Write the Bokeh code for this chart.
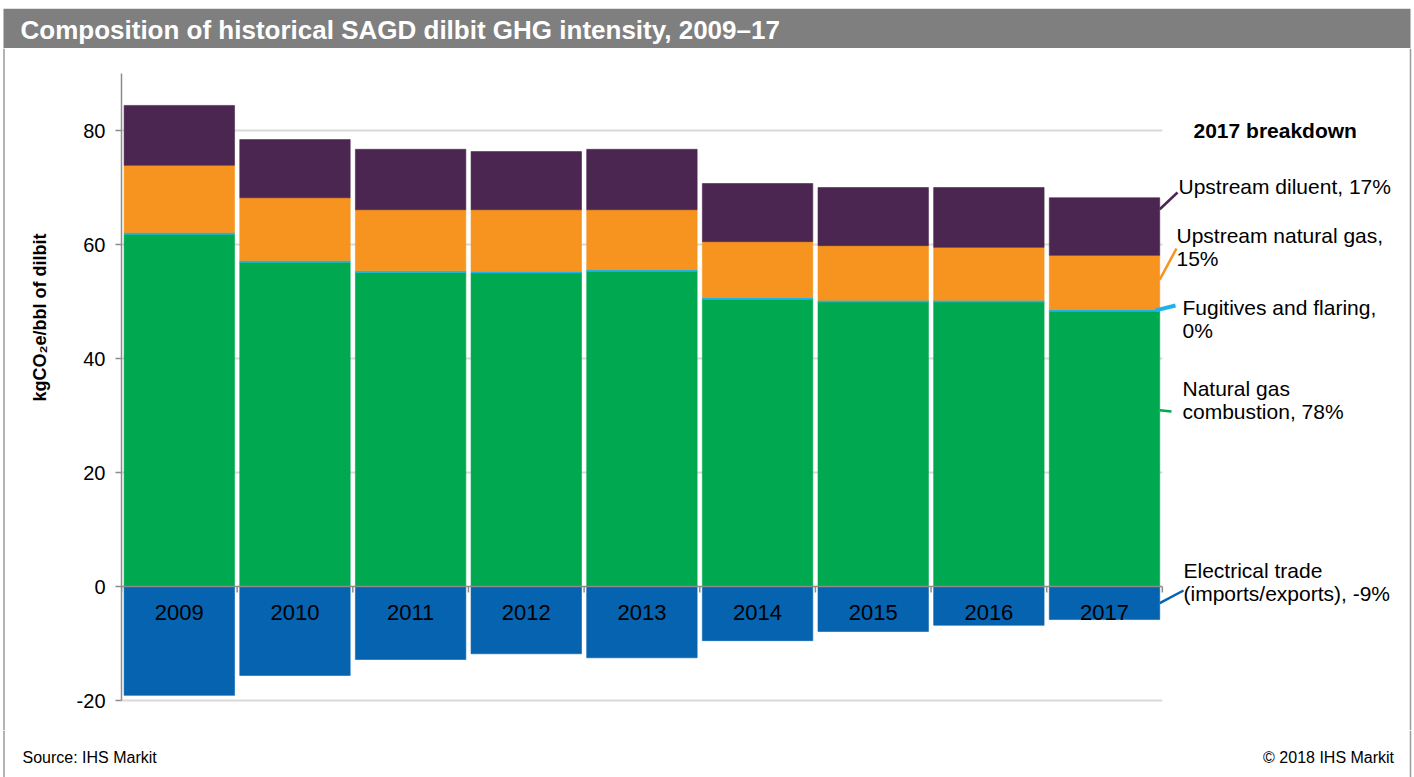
import math
from bokeh.plotting import figure
from bokeh.models import Range1d, FixedTicker, Title, ColumnDataSource, Spacer
from bokeh.layouts import column, row
from bokeh.embed import file_html
from bokeh.resources import INLINE
from bokeh.core.properties import value

# ---------------- data ----------------
years = ["2009", "2010", "2011", "2012", "2013", "2014", "2015", "2016", "2017"]
natural_gas_combustion = [61.8, 56.9, 55.1, 55.0, 55.3, 50.4, 49.9, 49.9, 48.3]
fugitives_and_flaring = [0.3, 0.3, 0.3, 0.3, 0.3, 0.3, 0.3, 0.3, 0.3]
upstream_natural_gas = [11.8, 11.0, 10.7, 10.8, 10.5, 9.8, 9.6, 9.3, 9.5]
upstream_diluent = [10.5, 10.2, 10.6, 10.2, 10.6, 10.2, 10.2, 10.5, 10.1]
electrical_trade = [-19.1, -15.6, -12.8, -11.8, -12.5, -9.5, -7.9, -6.8, -5.8]
y_ticks = [-20, 0, 20, 40, 60, 80]

title_text = "Composition of historical SAGD dilbit GHG intensity, 2009\u201317"
y_label = "kgCO\u2082e/bbl of dilbit"
breakdown_title = "2017 breakdown"
breakdown_labels = [
    ["Upstream diluent, 17%"],
    ["Upstream natural gas,", "15%"],
    ["Fugitives and flaring,", "0%"],
    ["Natural gas", "combustion, 78%"],
    ["Electrical trade", "(imports/exports), -9%"],
]
source_text = "Source:  IHS Markit"
copyright_text = "\u00a9 2018  IHS Markit"

# ---------------- style / layout ----------------
FONT = "Liberation Sans"
C_DIL, C_GAS, C_FUG, C_COMB, C_ELEC = "#4B2650", "#F6941F", "#1DB3EA", "#00A94F", "#0563B0"
GRID_C, AXIS_C, BORDER_C = "#D9D9D9", "#8C8C8C", "#9A9A9A"
BAR_GRAY = "#7F7F7F"

W = 1414
TOP_GAP, TITLE_H, MAIN_H, FOOT_H = 8, 40, 682, 47
MAIN_TOP = TOP_GAP + TITLE_H          # page y of main figure top
EDGE_W = 5                            # strip carrying the left border line
LEFT = 121
X0_REF, Y0_REF = LEFT, 586            # page pixel of x=0 / y=0
CAT_W, PX_PER_UNIT = 115.65, 5.7
BAR_W = 0.955
BOX_L, BOX_R = 3.5, 1410              # chart box border lines (page x)


def xd(px):
    return (px - X0_REF) / CAT_W


def yd(py):
    return (Y0_REF - py) / PX_PER_UNIT


def bare(fig, fill):
    fig.grid.visible = False
    fig.outline_line_color = None
    fig.background_fill_color = fill
    fig.border_fill_color = fill


# ---------------- title bar (pixel coordinates) ----------------
t = figure(width=W, height=TITLE_H, x_range=Range1d(0, W), y_range=Range1d(TITLE_H, 0),
           min_border=0, x_axis_location=None, y_axis_location=None,
           toolbar_location=None, output_backend="svg")
bare(t, "white")
t.quad(left=[BOX_L - 0.5], right=[BOX_R], top=[0], bottom=[TITLE_H],
       fill_color=BAR_GRAY, line_color=None)
t.text(x=[20], y=[21], text=[title_text], text_font=value(FONT), text_font_size="26px",
       text_font_style="bold", text_color="white", text_align="left", text_baseline="middle")

# ---------------- left border strip ----------------
edge = figure(width=EDGE_W, height=MAIN_H, x_range=Range1d(0, EDGE_W), y_range=Range1d(0, 1),
              min_border=0, x_axis_location=None, y_axis_location=None,
              toolbar_location=None, output_backend="svg")
bare(edge, "white")
edge.segment(x0=[BOX_L], x1=[BOX_L], y0=[0], y1=[1], line_color=BORDER_C, line_width=1.5)

# ---------------- main chart ----------------
n = len(years)
xs = [i + 0.5 for i in range(n)]
src = ColumnDataSource(dict(
    x=xs, year=years,
    comb=natural_gas_combustion, fug=fugitives_and_flaring,
    gas=upstream_natural_gas, dil=upstream_diluent, elec=electrical_trade,
))

p = figure(width=W - EDGE_W, height=MAIN_H,
           x_range=Range1d(0, (W - LEFT) / CAT_W),
           y_range=Range1d(yd(MAIN_TOP + MAIN_H), yd(MAIN_TOP)),
           min_border_left=LEFT - EDGE_W, min_border_right=0, min_border_top=0,
           min_border_bottom=0, x_axis_location=None, toolbar_location=None,
           output_backend="svg")
bare(p, "white")

# gridlines (stop at the last category)
grid_vals = [v for v in y_ticks if v != 0]
p.segment(x0=[0] * len(grid_vals), x1=[n] * len(grid_vals), y0=grid_vals, y1=grid_vals,
          line_color=GRID_C, line_width=2)

p.vbar_stack(["comb", "fug", "gas", "dil"], x="x", width=BAR_W, source=src,
             color=[C_COMB, C_FUG, C_GAS, C_DIL], line_width=0.6)
p.vbar(x="x", top=0, bottom="elec", width=BAR_W, source=src, color=C_ELEC, line_width=0.6)

# zero axis line with category ticks
p.segment(x0=[0], x1=[n], y0=[0], y1=[0], line_color=AXIS_C, line_width=1.5)
p.segment(x0=list(range(n + 1)), x1=list(range(n + 1)), y0=[0] * (n + 1),
          y1=[-6 / PX_PER_UNIT] * (n + 1), line_color=AXIS_C, line_width=1.5)

# year labels inside the negative bars
p.text(x="x", y=yd(612), text="year", source=src, text_font=value(FONT),
       text_font_size="22px", text_color="black", text_align="center",
       text_baseline="middle")

# y axis
ax = p.yaxis[0]
ax.ticker = FixedTicker(ticks=y_ticks)
ax.major_label_overrides = {v: str(v) for v in y_ticks}
ax.bounds = (y_ticks[0], 90)
ax.axis_line_color = AXIS_C
ax.axis_line_width = 1.5
ax.major_tick_line_color = AXIS_C
ax.major_tick_line_width = 1.5
ax.major_tick_out = 6
ax.major_tick_in = 0
ax.minor_tick_line_color = None
ax.major_label_text_font = FONT
ax.major_label_text_font_size = "20px"
ax.major_label_text_color = "black"
ax.major_label_standoff = 10

# y-axis title as a side-panel title (end of text at page y 233)
p.add_layout(Title(text=y_label, align="right", offset=233 - MAIN_TOP,
                   vertical_align="top", standoff=44,
                   text_font=FONT, text_font_size="18px", text_font_style="bold",
                   text_color="black"), "left")

# right border of the chart box
p.segment(x0=[xd(BOX_R)], x1=[xd(BOX_R)], y0=[yd(MAIN_TOP + MAIN_H)], y1=[yd(MAIN_TOP)],
          line_color=BORDER_C, line_width=1.5)

# 2017 breakdown
p.text(x=[xd(1193)], y=[yd(130)], text=[breakdown_title], text_font=value(FONT),
       text_font_size="21px", text_font_style="bold", text_color="black",
       text_align="left", text_baseline="middle")

label_pos = [(1178, 186), (1176, 235), (1182, 307), (1182, 388), (1183, 570)]
line_step = 23
lx, ly, lt = [], [], []
for (rx, ry), lines in zip(label_pos, breakdown_labels):
    for k, s in enumerate(lines):
        lx.append(xd(rx))
        ly.append(yd(ry + k * line_step))
        lt.append(s)
p.text(x=lx, y=ly, text=lt, text_font=value(FONT), text_font_size="21px",
       text_color="black", text_align="left", text_baseline="middle")

# leader lines from the 2017 bar
last = n - 1
bar_right = xs[last] + BAR_W / 2
c = natural_gas_combustion[last]
f = fugitives_and_flaring[last]
g = upstream_natural_gas[last]
d = upstream_diluent[last]
e = electrical_trade[last]
starts_y = [c + f + g + 0.8 * d, c + f + 0.55 * g, c + 0.5 * f, 0.64 * c, 0.5 * e]
ends = [(1177, 192), (1176, 248), (1175, 305), (1171, 411), (1183, 590)]
colors = [C_DIL, C_GAS, C_FUG, C_COMB, C_ELEC]
widths = [2.5, 2.5, 4, 2.5, 2.5]
for sy, (ex, ey), col, lw in zip(starts_y, ends, colors, widths):
    sx = bar_right - (0.035 if col == C_FUG else 0)
    p.segment(x0=[sx], y0=[sy], x1=[xd(ex)], y1=[yd(ey)], line_color=col, line_width=lw)

# ---------------- footer (pixel coordinates) ----------------
ft = figure(width=W, height=FOOT_H, x_range=Range1d(0, W), y_range=Range1d(FOOT_H, 0),
            min_border=0, x_axis_location=None, y_axis_location=None,
            toolbar_location=None, output_backend="svg")
bare(ft, "white")
ft.segment(x0=[BOX_L, BOX_R], x1=[BOX_L, BOX_R], y0=[0, 0], y1=[FOOT_H, FOOT_H],
           line_color=BORDER_C, line_width=1.5)
ft.text(x=[22], y=[27], text=[source_text], text_font=value(FONT),
        text_font_size="16px", text_color="black", text_align="left", text_baseline="middle")
ft.text(x=[1398], y=[27], text=[copyright_text], text_font=value(FONT),
        text_font_size="16px", text_color="black", text_align="right", text_baseline="middle")

layout = column(Spacer(width=W, height=TOP_GAP), row(t), row(edge, p, spacing=0), row(ft),
                spacing=0)
open("out.html", "w").write(file_html(layout, INLINE))
